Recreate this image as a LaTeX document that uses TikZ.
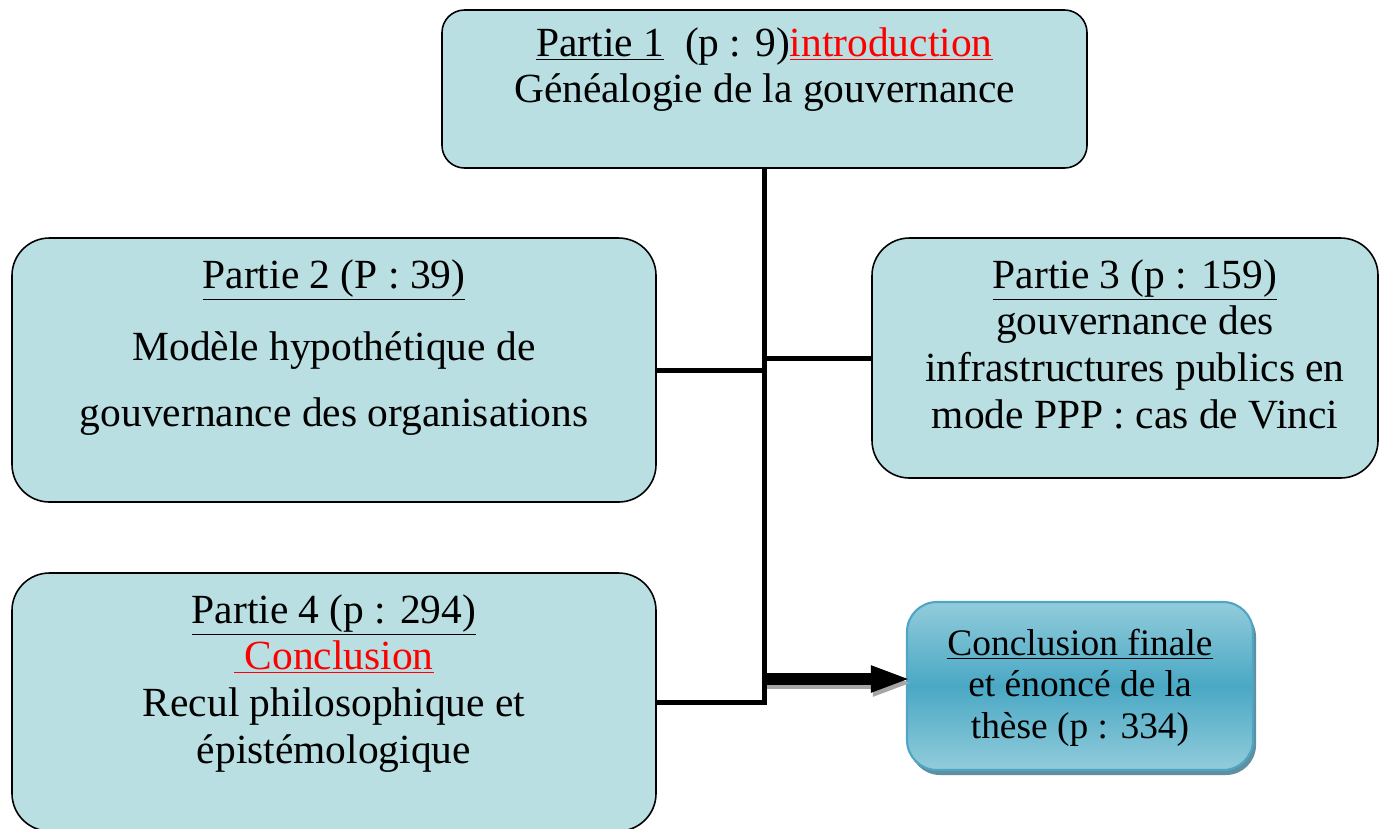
\documentclass[tikz,border=0pt]{standalone}
\usepackage{fontspec}
\setmainfont{Liberation Serif}
\usepackage{tikz}
\usepackage{xcolor}
\usetikzlibrary{positioning,arrows.meta,shadows}
\definecolor{box-fill}{RGB}{185,223,226}
\definecolor{conc-light}{RGB}{146,204,219}
\definecolor{conc-dark}{RGB}{74,168,196}
\definecolor{conc-border}{RGB}{79,165,195}
\definecolor{conc-shadow}{RGB}{95,143,160}
\tikzset{
    partie-box/.style = {draw=black, fill=box-fill, line width=0.9pt, rectangle, rounded corners=0.75cm, inner sep=0pt},
    partie-text/.style = {align=center, inner sep=0pt, font=\fontsize{23.6}{26.5}\selectfont},
    conclusion-box/.style = {draw=conc-border, line width=1.2pt, top color=conc-light, bottom color=conc-light, middle color=conc-dark, rounded corners=0.6cm, inner sep=0pt, drop shadow={shadow xshift=0.06cm, shadow yshift=-0.1cm, fill=conc-shadow, opacity=1}},
    conclusion-text/.style = {align=center, inner sep=0pt, font=\fontsize{21.3}{23.5}\selectfont},
    liaison/.style = {line width=0.1cm},
    fleche/.style = {line width=0.24cm, -{Triangle[length=0.8cm, width=0.48cm]}},
}

\begin{document}
\begin{tikzpicture}
\useasboundingbox (0,0) rectangle (27.58,-16.56);
\node[partie-box, rounded corners=0.45cm, minimum width=12.9cm, minimum height=3.16cm] (partie1) at (15.29,-1.78) {};
\node[partie-box, minimum width=12.88cm, minimum height=5.28cm] (partie2) at (6.68,-7.40) {};
\node[partie-box, minimum width=10.12cm, minimum height=4.8cm] (partie3) at (22.5,-7.16) {};
\node[partie-box, minimum width=12.88cm, minimum height=5.16cm] (partie4) at (6.68,-14.04) {};
\node[conclusion-box, minimum width=6.92cm, minimum height=3.36cm] (conclusion) at (21.6,-13.72) {};

\node[partie-text, below=0.36cm] (titre1) at (partie1.north) {\underline{Partie 1}\ \ (p : 9)\textcolor{red}{\underline{introduction}}\\
    Généalogie de la gouvernance};
\node[partie-text, below=0.44cm] (titre2) at (partie2.north) {\underline{Partie 2 (P : 39)}\\[14.3pt]
    Modèle hypothétique de\\[11.5pt]
    gouvernance des organisations};
\node[partie-text, below=0.44cm, xshift=0.2cm] (titre3) at (partie3.north) {\underline{Partie 3 (p : 159)}\\
    gouvernance des\\
    infrastructures publics en\\
    mode PPP : cas de Vinci};
\node[partie-text, below=0.44cm] (titre4) at (partie4.north) {\underline{Partie 4 (p : 294)}\\
    \textcolor{red}{\underline{\ Conclusion}}\\
    Recul philosophique et\\
    épistémologique};
\node[conclusion-text, below=0.56cm] (titre5) at (conclusion.north) {\underline{Conclusion finale}\\
    et énoncé de la\\
    thèse (p : 334)};

\draw[liaison] (partie1.south) -- (partie1.south |- partie4.east) -- (partie4.east);
\draw[liaison] (partie2.east) -- (partie2.east -| partie1.south);
\draw[liaison] (partie3.west) -- (partie3.west -| partie1.south);
\draw[fleche, draw=gray!70, transform canvas={xshift=0.04cm, yshift=-0.08cm}] ([yshift=0.14cm]partie1.south |- conclusion.west) -- ([xshift=0.1cm, yshift=0.14cm]conclusion.west);
\draw[fleche] ([yshift=0.14cm]partie1.south |- conclusion.west) -- ([xshift=0.1cm, yshift=0.14cm]conclusion.west);
\end{tikzpicture}
\end{document}
